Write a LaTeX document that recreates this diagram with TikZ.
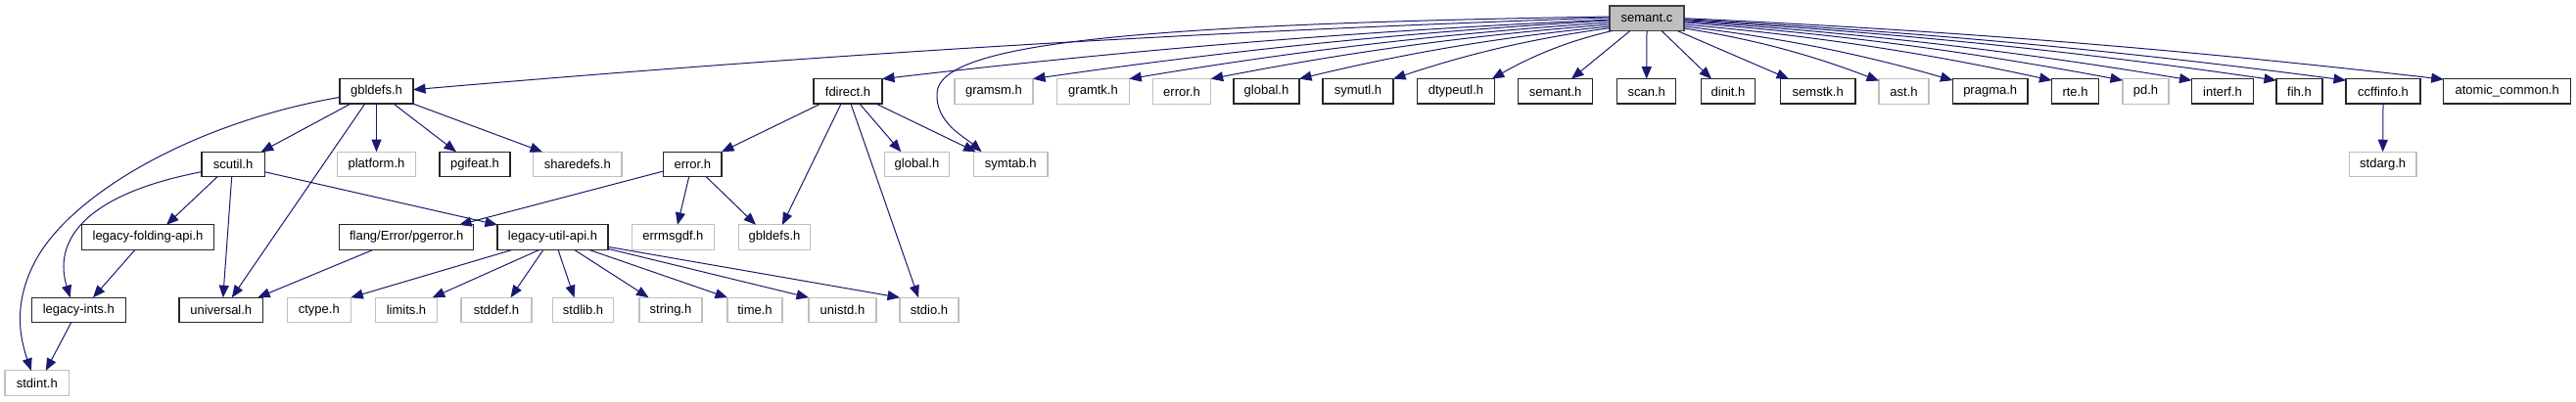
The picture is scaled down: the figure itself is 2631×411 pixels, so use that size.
\documentclass[tikz,border=0pt]{standalone}
\usepackage{fontspec}
\setmainfont{Liberation Sans}
\usetikzlibrary{arrows.meta,calc}
\definecolor{edgeblue}{HTML}{191970}
\definecolor{undocgray}{HTML}{BFBFBF}
\definecolor{mainfill}{HTML}{BFBFBF}
\begin{document}
\begin{tikzpicture}[x=1pt,y=-1pt,
  box/.style={draw, line width=1.3pt, minimum height=25.5pt, inner sep=0pt, outer sep=0pt,
    font=\fontsize{13}{15}\selectfont, text=black},
  doc/.style={box, draw=black!85},
  undoc/.style={box, draw=undocgray, line width=1.1pt},
  mainnode/.style={box, draw=black!75, fill=mainfill},
  dep/.style={draw=edgeblue, line width=1pt, -{Triangle[length=12.5pt,width=10pt]}},
  fan/.style={to path={let \p1=(\tikztostart), \p2=(\tikztotarget) in
    .. controls ($(\p1)+({0.35*(\x2-\x1)},{0.2*(\y2-\y1)})$) and ($(\p2)+({-0.35*(\x2-\x1)},{-0.5*(\y2-\y1)})$) .. (\p2) \tikztonodes}}
]
\useasboundingbox[fill=white] (0,0) rectangle (2631,411);

% row 1
\node[mainnode, minimum width=76pt] (semantc) at (1682,18.7) {semant.c};

% row 2
\node[doc,   minimum width=75pt]   (gbldefsA) at (384.5,93.4) {gbldefs.h};
\node[doc,   minimum width=70pt]   (fdirect)  at (866,93.4)   {fdirect.h};
\node[undoc, minimum width=80pt]   (gramsm)   at (1015,93.4)  {gramsm.h};
\node[undoc, minimum width=73.6pt] (gramtk)   at (1116.5,93.4){gramtk.h};
\node[undoc, minimum width=59.4pt] (errorA)   at (1207,93.4)  {error.h};
\node[doc,   minimum width=67pt]   (globalA)  at (1293.5,93.4){global.h};
\node[doc,   minimum width=72pt]   (symutl)   at (1387,93.4)  {symutl.h};
\node[doc,   minimum width=79.5pt] (dtypeutl) at (1487,93.4)  {dtypeutl.h};
\node[doc,   minimum width=76pt]   (semanth)  at (1588.7,93.4){semant.h};
\node[doc,   minimum width=60pt]   (scanh)    at (1681.7,93.4){scan.h};
\node[doc,   minimum width=55.4pt] (dinit)    at (1765,93.4)  {dinit.h};
\node[doc,   minimum width=76.7pt] (semstk)   at (1856.7,93.4){semstk.h};
\node[undoc, minimum width=51pt]   (ast)      at (1944.5,93.4){ast.h};
\node[doc,   minimum width=76.5pt] (pragma)   at (2032.7,93.4){pragma.h};
\node[doc,   minimum width=48pt]   (rte)      at (2119.5,93.4){rte.h};
\node[undoc, minimum width=47pt]   (pd)       at (2191.5,93.4){pd.h};
\node[doc,   minimum width=63pt]   (interf)   at (2270,93.4)  {interf.h};
\node[doc,   minimum width=47pt]   (fih)      at (2348.5,93.4){fih.h};
\node[doc,   minimum width=76pt]   (ccffinfo) at (2434,93.4)  {ccffinfo.h};
\node[doc,   minimum width=130pt]  (atomic)   at (2560.7,93.4){atomic\_common.h};

% row 3
\node[doc,   minimum width=64.3pt] (scutil)    at (238,168)    {scutil.h};
\node[undoc, minimum width=80.7pt] (platform)  at (384.5,168)  {platform.h};
\node[doc,   minimum width=72pt]   (pgifeat)   at (485,168)    {pgifeat.h};
\node[undoc, minimum width=90.4pt] (sharedefs) at (589.8,168)  {sharedefs.h};
\node[doc,   minimum width=59.4pt] (errorB)    at (707.3,168)  {error.h};
\node[undoc, minimum width=66.5pt] (globalB)   at (936.5,168)  {global.h};
\node[undoc, minimum width=75.4pt] (symtab)    at (1032.3,168) {symtab.h};
\node[undoc, minimum width=68.5pt] (stdarg)    at (2433.7,168) {stdarg.h};

% row 4
\node[doc,   minimum width=135.4pt] (legacyfold) at (151,242.6)   {legacy-folding-api.h};
\node[doc,   minimum width=136.8pt] (pgerror)    at (415.2,242.6) {flang/Error/pgerror.h};
\node[doc,   minimum width=113pt]   (legacyutil) at (564.5,242.6) {legacy-util-api.h};
\node[undoc, minimum width=83.3pt]  (errmsgdf)   at (687.4,242.6) {errmsgdf.h};
\node[undoc, minimum width=73.7pt]  (gbldefsB)   at (791,242.6)   {gbldefs.h};

% row 5
\node[doc,   minimum width=96pt]   (legacyints) at (80.3,317)  {legacy-ints.h};
\node[doc,   minimum width=85.7pt] (universal)  at (225.8,317) {universal.h};
\node[undoc, minimum width=65pt]   (ctype)      at (325.8,317) {ctype.h};
\node[undoc, minimum width=63.4pt] (limits)     at (415,317)   {limits.h};
\node[undoc, minimum width=72pt]   (stddef)     at (507,317)   {stddef.h};
\node[undoc, minimum width=62.3pt] (stdlib)     at (595.5,317) {stdlib.h};
\node[undoc, minimum width=64pt]   (string)     at (685,317)   {string.h};
\node[undoc, minimum width=56pt]   (time)       at (771,317)   {time.h};
\node[undoc, minimum width=69pt]   (unistd)     at (860.5,317) {unistd.h};
\node[undoc, minimum width=60pt]   (stdio)      at (949,317)   {stdio.h};

% row 6
\node[undoc, minimum width=65.7pt] (stdint) at (37.8,391.7) {stdint.h};

% ---- edges from semant.c ----
\draw[dep] ($(semantc.west)+(0,-0.7)$) to[fan] ($(gbldefsA.east)+(0,-1.7)$);
\draw[dep] ($(semantc.west)+(0,-1.7)$) .. controls (1150,25) and (960,45) .. (957,95)
   .. controls (955,125) and (985,140) .. ($(symtab.north west)+(8,0)$);
\draw[dep] ($(semantc.west)+(0,1.3)$)  to[fan] (fdirect.north east);
\draw[dep] ($(semantc.west)+(0,2.3)$)  to[fan] (gramsm.north east);
\draw[dep] ($(semantc.west)+(0,4.3)$)  to[fan] (gramtk.north east);
\draw[dep] ($(semantc.west)+(0,6.3)$)  to[fan] (errorA.north east);
\draw[dep] ($(semantc.west)+(0,8.3)$)  to[fan] (globalA.north east);
\draw[dep] ($(semantc.west)+(0,10)$)   to[fan] (symutl.north east);
\draw[dep] ($(semantc.south west)+(3,0)$) to[fan] ($(dtypeutl.north east)+(-3,0)$);
\draw[dep] ($(semantc.south west)+(21,0)$) -- ($(semanth.north east)+(-21.7,0)$);
\draw[dep] (semantc.south) -- (scanh.north);
\draw[dep] ($(semantc.south)+(15,0)$) -- ($(dinit.north west)+(10.7,0)$);
\draw[dep] ($(semantc.south east)+(-7,0)$) -- ($(semstk.north west)+(8.7,0)$);
\draw[dep] ($(semantc.east)+(0,10.3)$) to[fan] ($(ast.north west)+(0,2)$);
\draw[dep] ($(semantc.east)+(0,8.3)$)  to[fan] ($(pragma.north west)+(0,1.5)$);
\draw[dep] ($(semantc.east)+(0,6.3)$)  to[fan] ($(rte.north west)+(0,1.5)$);
\draw[dep] ($(semantc.east)+(0,4.3)$)  to[fan] ($(pd.north west)+(0,1.5)$);
\draw[dep] ($(semantc.east)+(0,3)$)    to[fan] ($(interf.north west)+(0,1.5)$);
\draw[dep] ($(semantc.east)+(0,2)$)    to[fan] ($(fih.north west)+(0,1.5)$);
\draw[dep] ($(semantc.east)+(0,1)$)    to[fan] ($(ccffinfo.north west)+(0,1.5)$);
\draw[dep] ($(semantc.east)+(0,0)$)    to[fan] ($(atomic.north west)+(0,0.5)$);

% ---- edges from gbldefs.h ----
\draw[dep] ($(gbldefsA.west)+(0,6)$) .. controls (200,125) and (80,195) .. (40,260)
   .. controls (10,310) and (22,350) .. ($(stdint.north)+(-6,0)$);
\draw[dep] ($(gbldefsA.south)+(-26.5,0)$) -- ($(scutil.north east)+(-3.5,0)$);
\draw[dep] ($(gbldefsA.south)+(-11.8,0)$) -- ($(universal.north)+(11,0)$);
\draw[dep] (gbldefsA.south) -- (platform.north);
\draw[dep] ($(gbldefsA.south)+(17.5,0)$) -- ($(pgifeat.north west)+(17,0)$);
\draw[dep] (gbldefsA.south east) -- ($(sharedefs.north west)+(9.4,0)$);

% ---- edges from scutil.h ----
\draw[dep] ($(scutil.west)+(0,7.7)$) .. controls (80,200) and (55,250) .. ($(legacyints.north west)+(39.4,0)$);
\draw[dep] ($(scutil.south)+(-16,0)$) -- ($(legacyfold.north)+(19,0)$);
\draw[dep] ($(scutil.south)+(-1.3,0)$) -- ($(universal.north)+(2,0)$);
\draw[dep] ($(scutil.east)+(0,7.7)$) -- (legacyutil.north west);

% ---- lower-left ----
\draw[dep] ($(legacyfold.south)+(-13,0)$) -- ($(legacyints.north)+(14.7,0)$);
\draw[dep] ($(legacyints.south)+(-7.6,0)$) -- ($(stdint.north)+(9,0)$);
\draw[dep] ($(pgerror.south)+(-34,0)$) -- ($(universal.north east)+(-5.4,0)$);

% ---- edges from fdirect.h ----
\draw[dep] ($(fdirect.south west)+(7,0)$) -- (errorB.north east);
\draw[dep] ($(fdirect.south)+(-7,0)$) -- ($(gbldefsB.north)+(8,0)$);
\draw[dep] ($(fdirect.south)+(3,0)$) -- ($(stdio.north)+(-11,0)$);
\draw[dep] ($(fdirect.south)+(12,0)$) -- ($(globalB.north west)+(17,0)$);
\draw[dep] ($(fdirect.south east)+(-6,0)$) -- ($(symtab.north west)+(2,0)$);

% ---- edges from error.h ----
\draw[dep] ($(errorB.west)+(0,7)$) -- ($(pgerror.north east)+(-14.6,0)$);
\draw[dep] ($(errorB.south)+(-3.6,0)$) -- ($(errmsgdf.north)+(4.6,0)$);
\draw[dep] ($(errorB.south)+(14,0)$) -- ($(gbldefsB.north)+(-19,0)$);

% ---- edges from legacy-util-api.h ----
\draw[dep] ($(legacyutil.south)+(-41,0)$) -- (ctype.north east);
\draw[dep] ($(legacyutil.south)+(-13.5,0)$) -- ($(limits.north east)+(-5,0)$);
\draw[dep] ($(legacyutil.south)+(-9.5,0)$) -- ($(stddef.north)+(14.5,0)$);
\draw[dep] ($(legacyutil.south)+(5.5,0)$) -- ($(stdlib.north)+(-9,0)$);
\draw[dep] ($(legacyutil.south)+(22,0)$) -- ($(string.north west)+(9.5,0)$);
\draw[dep] ($(legacyutil.south)+(37,0)$) -- (time.north west);
\draw[dep] ($(legacyutil.south east)+(0,-1)$) -- (unistd.north west);
\draw[dep] ($(legacyutil.south east)+(0,-3)$) -- (stdio.north west);

% ---- ccffinfo.h ----
\draw[dep] (ccffinfo.south) -- (stdarg.north);
\end{tikzpicture}
\end{document}
